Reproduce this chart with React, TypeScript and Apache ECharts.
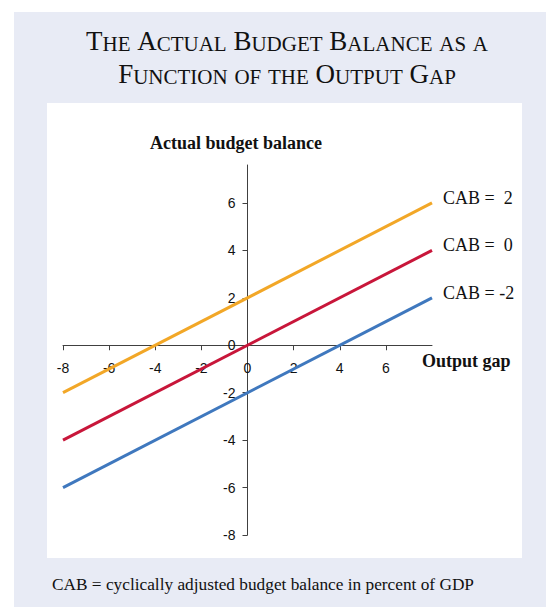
import React, { useEffect, useRef } from "react";
import * as echarts from "echarts";

// ---- data ----
const outputGap = [-8, 8];
const cabPlus2 = [-2, 6];
const cabZero = [-4, 4];
const cabMinus2 = [-6, 2];
const seriesNames = ["CAB =  2", "CAB =  0", "CAB = -2"];
const seriesColors = ["#F2A727", "#C8163A", "#3F78BE"];
const xTickValues = [-8, -6, -4, -2, 0, 2, 4, 6];
const yTickValues = [-8, -6, -4, -2, 0, 2, 4, 6];
const titleLine1 = "The Actual Budget Balance as a";
const titleLine2 = "Function of the Output Gap";
const yAxisTitle = "Actual budget balance";
const xAxisTitle = "Output gap";
const footnote = "CAB = cyclically adjusted budget balance in percent of GDP";

const X_MIN = -8;
const X_MAX = 8;
const Y_MIN = -8;
const Y_MAX = 7.6;

const SERIF = "'Liberation Serif', 'Times New Roman', serif";
const SANS = "'Liberation Sans', Arial, sans-serif";

// build small caps rich string: capitals -> big, lowercase -> small caps
function smallCaps(text: string): string {
  let out = "";
  let cur = "";
  let mode = "";
  const flush = () => {
    if (cur) out += `{${mode}|${cur}}`;
    cur = "";
  };
  for (const ch of text) {
    const m = ch === " " ? "sp" : ch === ch.toUpperCase() ? "b" : "s";
    if (m !== mode) {
      flush();
      mode = m;
    }
    cur += ch.toUpperCase();
  }
  flush();
  return out;
}

const BIG = 27;
const SMALL = 21;
const titleRich = {
  b: { fontSize: BIG, fontFamily: SERIF, fill: "#111", verticalAlign: "bottom", lineHeight: BIG },
  s: { fontSize: SMALL, fontFamily: SERIF, fill: "#111", verticalAlign: "bottom", lineHeight: BIG },
  sp: { fontSize: BIG, fontFamily: SERIF, fill: "#111", verticalAlign: "bottom", lineHeight: BIG },
};

const GRID = { left: 63, right: 114, top: 165, bottom: 72 };
const W = 546;
const H = 607;

export default function App() {
  const ref = useRef<HTMLDivElement>(null);
  useEffect(() => {
    if (!ref.current) return;
    const chart = echarts.init(ref.current, null, { renderer: "svg" });
    const datasets = [cabPlus2, cabZero, cabMinus2];
    const gw = W - GRID.left - GRID.right;
    const gh = H - GRID.top - GRID.bottom;
    // move axes so they cross at zero
    const xOffset = -((0 - Y_MIN) / (Y_MAX - Y_MIN)) * gh;
    const yOffset = -((0 - X_MIN) / (X_MAX - X_MIN)) * gw;
    chart.setOption({
      animation: false,
      backgroundColor: "#ffffff",
      grid: { ...GRID, outerBoundsMode: "none" },
      xAxis: {
        type: "value",
        min: X_MIN,
        max: X_MAX,
        interval: 2,
        position: "bottom",
        offset: xOffset,
        splitLine: { show: false },
        axisLine: { onZero: false, lineStyle: { color: "#404040", width: 1 } },
        axisTick: { show: true, length: 5, inside: false, customValues: xTickValues, lineStyle: { color: "#404040" } },
        axisLabel: {
          customValues: xTickValues,
          margin: 16,
          fontFamily: SANS,
          fontSize: 14,
          color: "#111",
        },
      },
      yAxis: {
        type: "value",
        min: Y_MIN,
        max: Y_MAX,
        interval: 2,
        position: "left",
        offset: yOffset,
        splitLine: { show: false },
        axisLine: { onZero: false, lineStyle: { color: "#404040", width: 1 } },
        axisTick: { show: true, length: 5, inside: false, customValues: yTickValues, lineStyle: { color: "#404040" } },
        axisLabel: {
          customValues: yTickValues,
          margin: 12,
          fontFamily: SANS,
          fontSize: 14,
          color: "#111",
        },
      },
      graphic: [
        { type: "rect", z: -10, silent: true, shape: { x: 14, y: 12, width: 540, height: 600 }, style: { fill: "#E8EBF5" } },
        { type: "rect", z: -9, silent: true, shape: { x: 47, y: 103, width: 475, height: 455 }, style: { fill: "#FFFFFF" } },
        {
          type: "text",
          x: 287,
          y: 41,
          style: { text: smallCaps(titleLine1), rich: titleRich, align: "center", verticalAlign: "middle" },
        },
        {
          type: "text",
          x: 287,
          y: 74,
          style: { text: smallCaps(titleLine2), rich: titleRich, align: "center", verticalAlign: "middle" },
        },
        {
          type: "text",
          x: 236,
          y: 143,
          style: { text: yAxisTitle, fontFamily: SERIF, fontSize: 18, fontWeight: "bold", fill: "#111", align: "center", verticalAlign: "middle" },
        },
        {
          type: "text",
          x: 422,
          y: 361,
          style: { text: xAxisTitle, fontFamily: SERIF, fontSize: 18, fontWeight: "bold", fill: "#111", align: "left", verticalAlign: "middle" },
        },
        {
          type: "text",
          x: 52,
          y: 584,
          style: { text: footnote, fontFamily: SERIF, fontSize: 17.3, fill: "#111", align: "left", verticalAlign: "middle" },
        },
      ],
      series: datasets.map((vals, i) => ({
        name: seriesNames[i],
        type: "line",
        data: outputGap.map((x, j) => [x, vals[j]]),
        symbol: "none",
        lineStyle: { color: seriesColors[i], width: 3 },
        itemStyle: { color: seriesColors[i] },
        endLabel: {
          show: true,
          formatter: () => seriesNames[i],
          fontFamily: SERIF,
          fontSize: 18,
          color: "#111",
          distance: 11,
          offset: [0, -5],
        },
      })),
    });
    return () => chart.dispose();
  }, []);
  return <div ref={ref} style={{ position: "fixed", left: 0, top: 0, width: W, height: H }} />;
}
